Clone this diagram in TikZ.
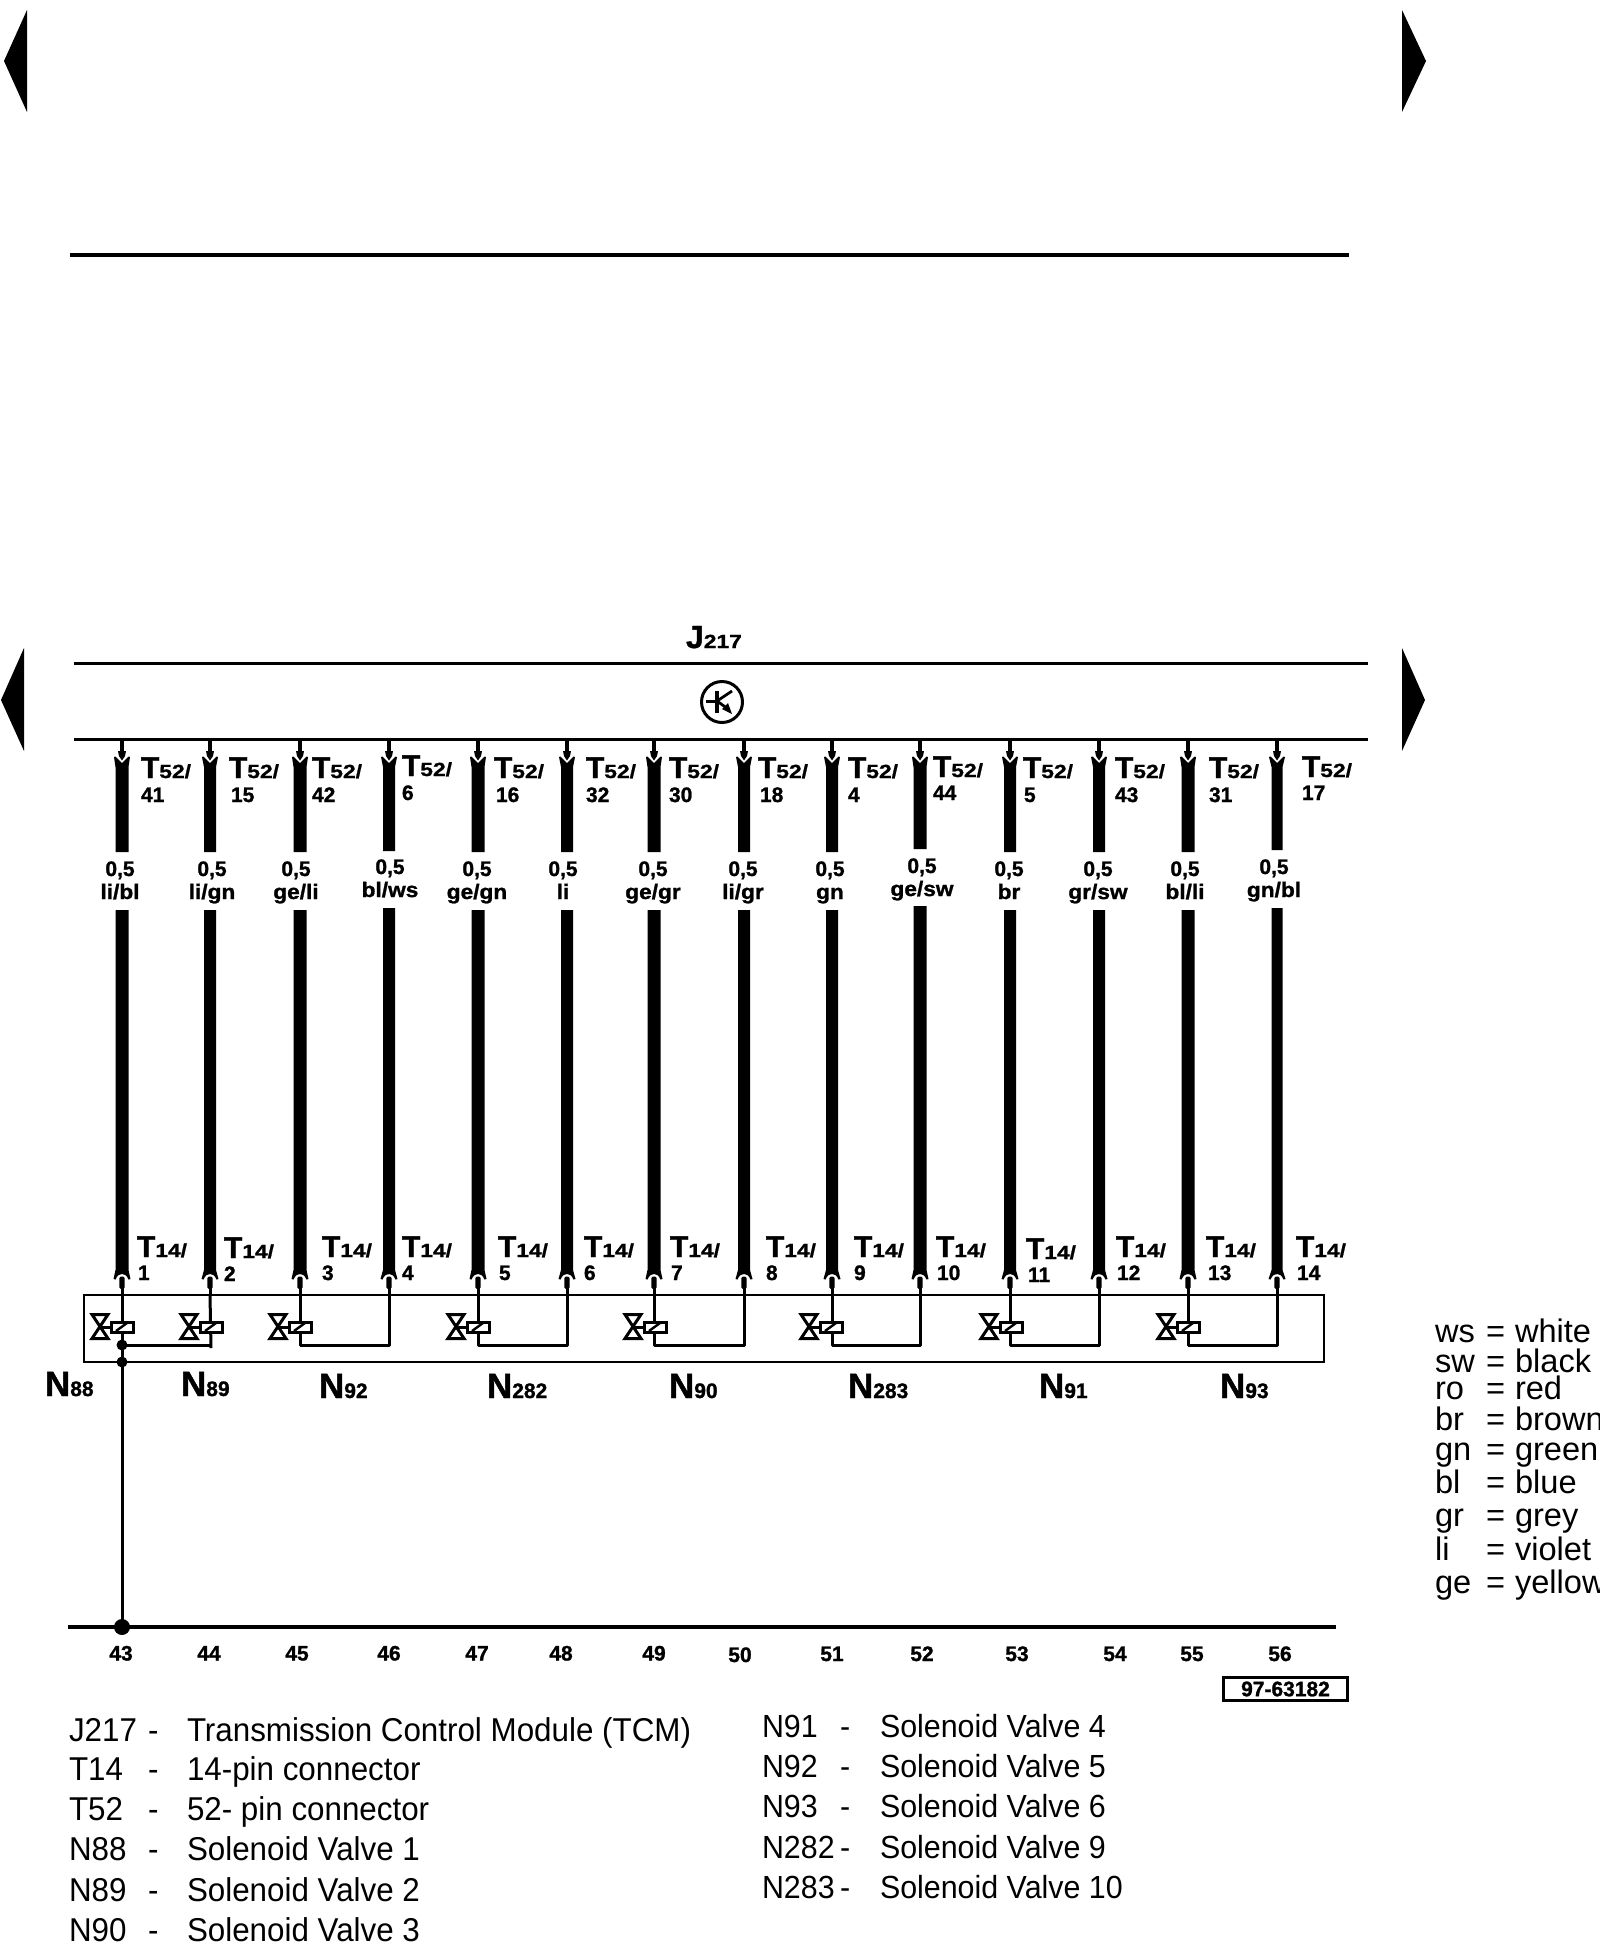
\documentclass[tikz,border=0pt]{standalone}
\usepackage{fontspec}
\setmainfont{Liberation Sans}
\newfontfamily\hbf[BoldFeatures={FakeBold=1.2}]{Liberation Sans}
\newfontfamily\hbw[BoldFeatures={FakeBold=1.2,FakeStretch=1.2}]{Liberation Sans}
\newfontfamily\hbg[BoldFeatures={FakeBold=1.2,FakeStretch=1.08}]{Liberation Sans}
\newfontfamily\hrn[FakeStretch=0.95]{Liberation Sans}
\newcommand\numf{\hbf\bfseries\fontsize{21}{21}\selectfont}
\newcommand\gaugef{\hbg\bfseries\fontsize{21}{21}\selectfont}
\newcommand\bigT[1]{{\hbf\bfseries\fontsize{30}{30}\selectfont #1}}
\newcommand\bigN[1]{{\hbf\bfseries\fontsize{35}{35}\selectfont #1}}
\newcommand\subw[1]{{\hbw\bfseries\fontsize{19}{19}\selectfont #1}}
\newcommand\subn[1]{{\hbf\bfseries\fontsize{21}{21}\selectfont #1}}
\newcommand\listL{\hrn\fontsize{33}{33}\selectfont}
\newcommand\listR{\hrn\fontsize{32}{32}\selectfont}
\newcommand\legf{\fontsize{32.6}{32}\selectfont}
\tikzset{
  txt/.style={inner sep=0pt,outer sep=0pt,anchor=base west},
  ctxt/.style={inner sep=0pt,outer sep=0pt,anchor=base},
  rail/.style={line width=3pt,line cap=butt},
  lead/.style={line width=3pt,line join=miter},
  valve/.style={line width=3pt,line join=miter},
}
\begin{document}
\begin{tikzpicture}[x=1pt,y=-1pt]
\useasboundingbox (0,0) rectangle (1600,1952);
\fill[white] (0,0) rectangle (1600,1952);
% page markers
\fill (4,61) -- (27,10) -- (27,112) -- cycle;
\fill (1402,10) -- (1426,61) -- (1402,112) -- cycle;
\fill (1,700) -- (24,648) -- (24,751) -- cycle;
\fill (1402,648) -- (1425,700) -- (1402,751) -- cycle;
\coordinate (ta) at (70,255); \coordinate (tb) at (1349,255);
\draw[line width=4.5pt] (ta) -- (tb);
% control module
\coordinate (ja) at (74,663); \coordinate (jb) at (1368,663);
\coordinate (jc) at (74,739); \coordinate (jd) at (1368,739);
\draw[rail] (ja) -- (jb);
\draw[rail] (jc) -- (jd);
\node[txt] (jlabel) at (686,648) {{\hbf\bfseries\fontsize{32}{32}\selectfont J}\subw{217}};
% transistor symbol
\draw[line width=3pt] (722,702) circle (20.5pt);
\draw[line width=3pt] (706,701) -- (717,701);
\draw[line width=4pt] (717,691) -- (717,713);
\draw[line width=2.8pt] (717,701) -- (732,691);
\draw[line width=2.8pt] (717,701) -- (728,709);
\fill (732,714) -- (722,709) -- (728,703) -- cycle;
% wires: idx/x/width/upper end/lower start
\foreach \ii/\wx/\ww/\ue/\ls in {
 1/122/13/852/910, 2/210/12/852/910, 3/300/13/852/910, 4/389/12/851/908,
 5/478/13/852/910, 6/567/12/852/910, 7/654/13/852/910, 8/744/12/852/910,
 9/832/12/852/910, 10/920/13/849/906, 11/1010/12/852/910, 12/1099/12/852/910,
 13/1188/13/852/910, 14/1277/11/850/908}{
  \pgfmathsetmacro\hw{\ww/2}
  \coordinate (jp\ii) at (\wx,739);
  \coordinate (ah\ii) at (\wx,752);
  \coordinate (st\ii) at (\wx,1277);
  \coordinate (bx\ii) at (\wx,1295);
  % upper part with flared, notched end
  \fill (\wx-\hw,\ue) -- (\wx-\hw,767) -- (\wx-8,757) -- (\wx-6.5,756.5) -- (\wx,763)
     -- (\wx+6.5,756.5) -- (\wx+8,757) -- (\wx+\hw,767) -- (\wx+\hw,\ue) -- cycle;
  \draw[line width=3.5pt] (jp\ii) -- (ah\ii);
  \fill (\wx-4,751) -- (\wx+4,751) -- (\wx+3,756) -- (\wx,760.5) -- (\wx-3,756) -- cycle;
  % lower part with flared, notched end
  \fill (\wx-\hw,\ls) -- (\wx-\hw,1270) -- (\wx-8.5,1279) -- (\wx-6.5,1279.5)
     .. controls (\wx-4.5,1275) and (\wx-2.5,1274) .. (\wx,1274)
     .. controls (\wx+2.5,1274) and (\wx+4.5,1275) .. (\wx+6.5,1279.5)
     -- (\wx+8.5,1279) -- (\wx+\hw,1270) -- (\wx+\hw,\ls) -- cycle;
  \fill[rounded corners=1.5pt] (\wx-2.6,1276.5) rectangle (\wx+2.6,1289);
  \draw[lead] (st\ii) -- (bx\ii);
}
% solenoid block
\coordinate (ba) at (84,1295); \coordinate (bb) at (1324,1362);
\draw[line width=2.8pt] (ba) rectangle (bb);
\coordinate (gd) at (122,1627);
\coordinate (gstart) at (68,1627); \coordinate (gend) at (1336,1627);
\draw[line width=3.2pt] (gstart) -- (gend);
% valves: odd wire / return wire
\foreach \ii/\jj/\wx/\rx in {3/4/300/389, 5/6/478/567, 7/8/654/744, 9/10/832/920, 11/12/1010/1099, 13/14/1188/1277}{
  \coordinate (ra\ii) at (\wx,1345);
  \coordinate (rb\ii) at (\rx,1345);
  \draw[lead,line join=round] (bx\ii) -- (ra\ii) -- (rb\ii) -- (bx\jj);
}
\coordinate (ra1) at (122,1345); \coordinate (rb1) at (211,1345);
\coordinate (rc1) at (211,1348);
\draw[lead] (bx1) -- (gd);
\draw[lead] (bx2) -- (rc1);
\draw[lead] (ra1) -- (rb1);
\fill (ra1) circle (5.5pt);
\fill (122,1362) circle (5.5pt);
\fill (gd) circle (8pt);
\foreach \ii/\wx in {1/122,2/211,3/300,5/478,7/655,9/831,11/1011,13/1188}{
  \draw[valve] (\wx-11,1327) -- (\wx-22,1327);
  \draw[valve,fill=white] (\wx-11,1322.5) rectangle (\wx+11,1332);
  \draw[line width=2.4pt] (\wx-6,1331) -- (\wx+5,1323);
  \draw[valve] (\wx-30,1314.5) -- (\wx-14,1314.5) -- (\wx-30,1338.5) -- (\wx-14,1338.5) -- cycle;
}
% T52 labels: idx/T x/number x/baseline/number baseline/number
\foreach \ii/\tx/\nx/\by/\ny/\nn in {
 1/141/141/778/802/41, 2/229/231/778/802/15, 3/312/312/778/802/42, 4/402/402/776/800/6,
 5/494/496/778/802/16, 6/586/586/778/802/32, 7/669/669/778/802/30, 8/758/760/778/802/18,
 9/848/848/778/802/4, 10/933/933/777/800/44, 11/1023/1024/778/802/5, 12/1115/1115/778/802/43,
 13/1209/1209/778/802/31, 14/1302/1302/777/800/17}{
  \node[txt] (tft\ii) at (\tx,\by) {\bigT{T}\subw{52/}};
  \node[txt] (tfn\ii) at (\nx,\ny) {\numf \nn};
}
% T14 labels
\foreach \ii/\tx/\nx/\by/\ny in {
 1/137/138/1257/1280, 2/224/224/1258/1281, 3/322/322/1257/1280, 4/402/402/1257/1280,
 5/498/499/1257/1280, 6/584/584/1257/1280, 7/670/671/1257/1280, 8/766/766/1257/1280,
 9/854/854/1257/1280, 10/936/937/1257/1280, 11/1026/1028/1259/1282, 12/1116/1117/1257/1280,
 13/1206/1208/1257/1280, 14/1296/1297/1257/1280}{
  \node[txt] (tot\ii) at (\tx,\by) {\bigT{T}\subw{14/}};
  \node[txt] (ton\ii) at (\nx,\ny) {\numf \ii};
}
% gauge / colour labels
\foreach \ii/\cx/\ga/\gb/\col in {
 1/120/876/899/{li/bl}, 2/212/876/899/{li/gn}, 3/296/876/899/{ge/li}, 4/390/874/897/{bl/ws},
 5/477/876/899/{ge/gn}, 6/563/876/899/{li}, 7/653/876/899/{ge/gr}, 8/743/876/899/{li/gr},
 9/830/876/899/{gn}, 10/922/873/896/{ge/sw}, 11/1009/876/899/{br}, 12/1098/876/899/{gr/sw},
 13/1185/876/899/{bl/li}, 14/1274/874/897/{gn/bl}}{
  \node[ctxt] (ga\ii) at (\cx,\ga) {\numf 0,5};
  \node[ctxt] (gc\ii) at (\cx,\gb) {\gaugef \col};
}
% valve names
\node[txt] (n88) at (45,1396) {\bigN{N}\subn{88}};
\node[txt] (n89) at (181,1396) {\bigN{N}\subn{89}};
\node[txt] (n92) at (319,1398) {\bigN{N}\subn{92}};
\node[txt] (n282) at (487,1398) {\bigN{N}\subn{282}};
\node[txt] (n90) at (669,1398) {\bigN{N}\subn{90}};
\node[txt] (n283) at (848,1398) {\bigN{N}\subn{283}};
\node[txt] (n91) at (1039,1398) {\bigN{N}\subn{91}};
\node[txt] (n93) at (1220,1398) {\bigN{N}\subn{93}};
% terminal numbers
\foreach \nn/\cx/\by in {43/121/1660.5, 44/209/1660.5, 45/297/1660.5, 46/389/1660.5, 47/477/1660.5,
 48/561/1660.5, 49/654/1660.5, 50/740/1662, 51/832/1661, 52/922/1661, 53/1017/1661,
 54/1115/1661, 55/1192/1661, 56/1280/1661}{
  \node[ctxt] (pin\nn) at (\cx,\by) {\numf \nn};
}
% reference box
\node[draw,line width=2.8pt,minimum width=124pt,minimum height=23pt,inner sep=0pt] (ref) at (1285.5,1689) {\numf 97-63182};
% colour legend
\foreach \kk/\ab/\wdn/\by in {a/ws/white/1342, b/sw/black/1372, c/ro/red/1399, d/br/brown/1430,
 e/gn/green/1460, f/bl/blue/1493, g/gr/grey/1526, h/li/violet/1560, i/ge/yellow/1593}{
  \node[txt] (la\kk) at (1435,\by) {\legf \ab};
  \node[txt] (le\kk) at (1486,\by) {\legf =};
  \node[txt] (lw\kk) at (1515,\by) {\legf \wdn};
}
% key, left column
\foreach \kk/\ab/\ds/\by in {a/J217/Transmission Control Module (TCM)/1741, b/T14/14-pin connector/1780,
 c/T52/52- pin connector/1820, d/N88/Solenoid Valve 1/1860, e/N89/Solenoid Valve 2/1901, f/N90/Solenoid Valve 3/1941}{
  \node[txt] (ka\kk) at (69,\by) {\listL \ab};
  \node[txt] (kd\kk) at (148,\by) {\listL -};
  \node[txt] (ke\kk) at (187,\by) {\listL \ds};
}
% key, right column
\foreach \kk/\ab/\ds/\by in {a/N91/Solenoid Valve 4/1737, b/N92/Solenoid Valve 5/1777,
 c/N93/Solenoid Valve 6/1817, d/N282/Solenoid Valve 9/1858, e/N283/Solenoid Valve 10/1898}{
  \node[txt] (ma\kk) at (762,\by) {\listR \ab};
  \node[txt] (md\kk) at (840,\by) {\listR -};
  \node[txt] (me\kk) at (880,\by) {\listR \ds};
}
\end{tikzpicture}
\end{document}
